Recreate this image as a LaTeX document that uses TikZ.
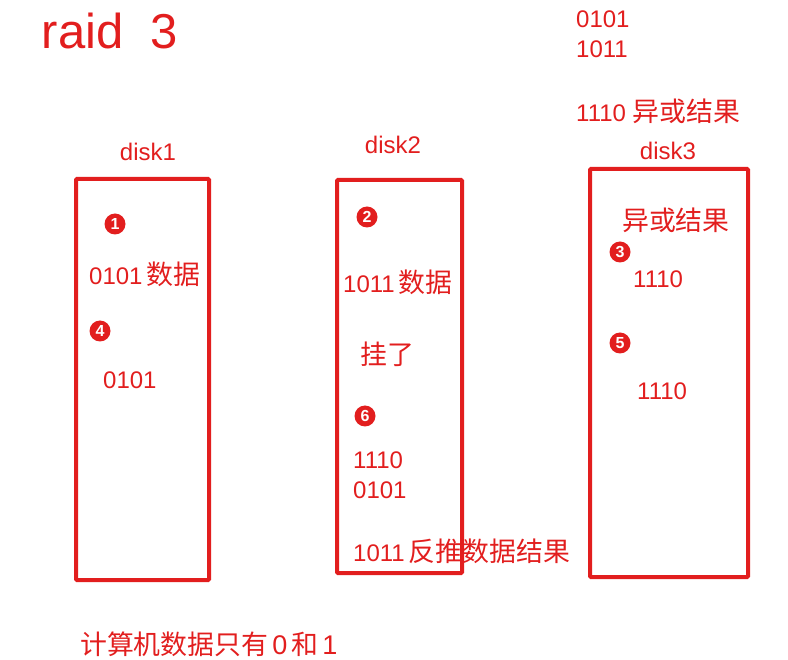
\documentclass[tikz,border=0pt]{standalone}
\usepackage{fontspec}
\setmainfont{Liberation Sans}
\newfontfamily\cjk[Scale=1.12]{Noto Sans CJK SC}
\definecolor{rd}{RGB}{226,30,30}
\tikzset{
  diskbox/.style={draw=rd, line width=4pt, rounded corners=1pt},
  txt/.style={text=rd, inner sep=0pt, anchor=west, font=\fontsize{24}{28}\selectfont},
  lbl/.style={text=rd, inner sep=0pt, font=\fontsize{24}{28}\selectfont},
  num/.style={circle, fill=rd, text=white, inner sep=0pt, minimum size=21pt, font=\fontsize{16}{16}\selectfont\bfseries}
}
\newcommand{\bigdig}[1]{{\fontsize{27}{28}\selectfont #1}}
\begin{document}
\begin{tikzpicture}[x=1pt,y=-1pt]
\useasboundingbox (0,0) rectangle (788,660);
% title
\node[lbl, font=\fontsize{49}{52}\selectfont] (title) at (110,31) {raid\ \ 3};
% boxes
\draw[diskbox] (76,179) rectangle (209,580);
\draw[diskbox] (337,180) rectangle (462,573);
\draw[diskbox] (590,169) rectangle (748,577);
% labels
\node[lbl] (d1) at (148,152) {disk1};
\node[lbl] (d2) at (393,145) {disk2};
\node[lbl] (d3) at (668,151) {disk3};
% top right
\node[txt] (t1) at (576,19) {0101};
\node[txt] (t2) at (576,49) {1011};
\node[txt] (t3) at (576,111) {1110 {\cjk 异或结果}};
% disk1
\node[num] (n1) at (115,224) {1};
\node[txt] (a1) at (89,274) {0101\,{\cjk 数据}};
\node[num] (n4) at (100,331) {4};
\node[txt] (a2) at (103,380) {0101};
% disk2
\node[num] (n2) at (367,217) {2};
\node[txt] (b1t) at (343,282) {1011\,{\cjk 数据}};
\node[txt] (b2) at (360,354) {{\cjk 挂了}};
\node[num] (n6) at (365,416) {6};
\node[txt] (b3) at (353,460) {1110};
\node[txt] (b4) at (353,490) {0101};
\node[txt] (b5) at (353,551) {1011\,{\cjk 反推数据结果}};
% disk3
\node[txt] (c1) at (622,220) {{\cjk 异或结果}};
\node[num] (n3) at (620,252) {3};
\node[txt] (c2) at (633,279) {1110};
\node[num] (n5) at (620,343) {5};
\node[txt] (c3) at (637,391) {1110};
% bottom
\node[txt] (bot) at (80,644) {{\cjk 计算机数据只有}\,\bigdig{0}\,{\cjk 和}\,\bigdig{1}};
\end{tikzpicture}
\end{document}
